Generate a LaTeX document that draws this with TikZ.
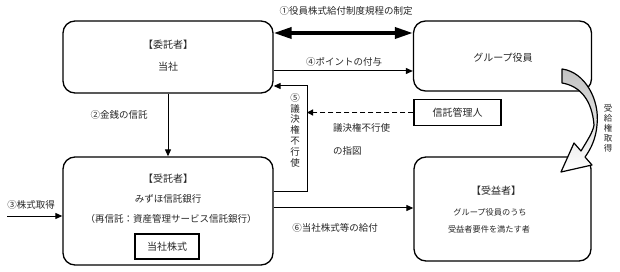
\documentclass[tikz,border=0pt]{standalone}
\usepackage{fontspec}
\setmainfont{Noto Sans CJK JP}
\usetikzlibrary{arrows.meta,calc}
\begin{document}
\begin{tikzpicture}[x=1pt,y=-1pt,
  box/.style={draw,line width=1.3pt,rounded corners=12pt,inner sep=0pt},
  sqbox/.style={draw,line width=1.3pt,inner sep=0pt},
  txt/.style={inner sep=0pt,font=\fontsize{10}{12}\selectfont,text=black!85},
  lbl/.style={inner sep=0pt,font=\fontsize{9.5}{11}\selectfont,text=black!85},
  small/.style={inner sep=0pt,font=\fontsize{8.2}{10}\selectfont,text=black!85},
  arr/.style={line width=1pt,-{Triangle[length=7pt,width=6pt]}},
]
\useasboundingbox (0,0) rectangle (620,272);

% boxes
\node[box,minimum width=210pt,minimum height=72pt] (b1) at (168,57) {};
\node[txt] (b1t) at (168,45) {【委託者】};
\node[txt] (b1s) at (168,67) {当社};

\node[box,minimum width=178pt,minimum height=70pt] (b2) at (502.5,56) {};
\node[txt] (b2t) at (503,58) {グループ役員};

\node[box,minimum width=210pt,minimum height=108pt] (b3) at (168,211) {};
\node[txt] (b3t) at (168,179) {【受託者】};
\node[lbl] (b3a) at (168,199) {みずほ信託銀行};
\node[lbl] (b3b) at (171,219) {（再信託：資産管理サービス信託銀行）};
\node[sqbox,txt,minimum width=64pt,minimum height=25pt] (stk) at (167,246.5) {当社株式};

\node[box,minimum width=177pt,minimum height=104pt] (b4) at (502.5,209) {};
\node[txt] (b4t) at (496,191) {【受益者】};
\node[small] (b4a) at (490,212) {グループ役員のうち};
\node[small] (b4b) at (489,229) {受益者要件を満たす者};

\node[sqbox,txt,minimum width=87pt,minimum height=26pt] (tk) at (457.5,112.5) {信託管理人};

% (1)
\draw[line width=3.5pt,{Triangle[length=18pt,width=11pt]}-{Triangle[length=18pt,width=11pt]}]
  ($(b1.east)+(0,-24)$) -- ($(b2.west)+(0,-23)$);
\node[lbl] (l1) at (346,11) {①役員株式給付制度規程の制定};

% (4)
\draw[arr] ($(b1.east)+(0,14)$) -- ($(b2.west)+(0,15)$);
\node[lbl] (l4) at (344,62) {④ポイントの付与};

% (5)
\coordinate (c5a) at (307,192);
\coordinate (c5b) at (307,86);
\draw[arr] ($(b3.east)+(0,-19)$) -- (c5a) -- (c5b) -- ($(b1.east)+(0,29)$);
\node[lbl,align=center,font=\fontsize{9.5}{10.8}\selectfont] (l5) at (295,130) {⑤\\議\\決\\権\\不\\行\\使};

\draw[line width=1.3pt,dash pattern=on 5pt off 3pt,-{Triangle[length=6pt,width=6pt]}]
  (tk.west) -- (tk.west -| c5a);
\node[lbl,anchor=west] (l5a) at (333,128) {議決権不行使};
\node[lbl,anchor=west] (l5b) at (333,151) {の指図};

% (2)
\draw[arr] (b1.south) -- (b3.north);
\node[lbl] (l2) at (119,115) {②金銭の信託};

% (3)
\coordinate (c3) at (7,216);
\draw[arr] (c3) -- (c3 -| b3.west);
\node[lbl] (l3) at (31,205) {③株式取得};

% (6)
\draw[arr] ($(b3.east)+(0,-3)$) -- ($(b4.west)+(0,-1)$);
\node[lbl] (l6) at (335,228) {⑥当社株式等の給付};

% curved arrow
\shadedraw[top color=black!24,bottom color=white,line width=1.2pt,line join=round]
  (562,69) .. controls (585,72) and (600,100) .. (597,125)
  .. controls (596,138) and (591,149) .. (585,157)
  -- (592,165) -- (561,172) -- (574,143) -- (581,151)
  .. controls (587,141) and (593,132) .. (594,125)
  .. controls (592,100) and (580,86) .. (562,83) -- cycle;
\node[font=\fontsize{8.5}{10}\selectfont,text=black!85,inner sep=0pt,align=center] (l7) at (608,128) {受\\給\\権\\取\\得};
\end{tikzpicture}
\end{document}
